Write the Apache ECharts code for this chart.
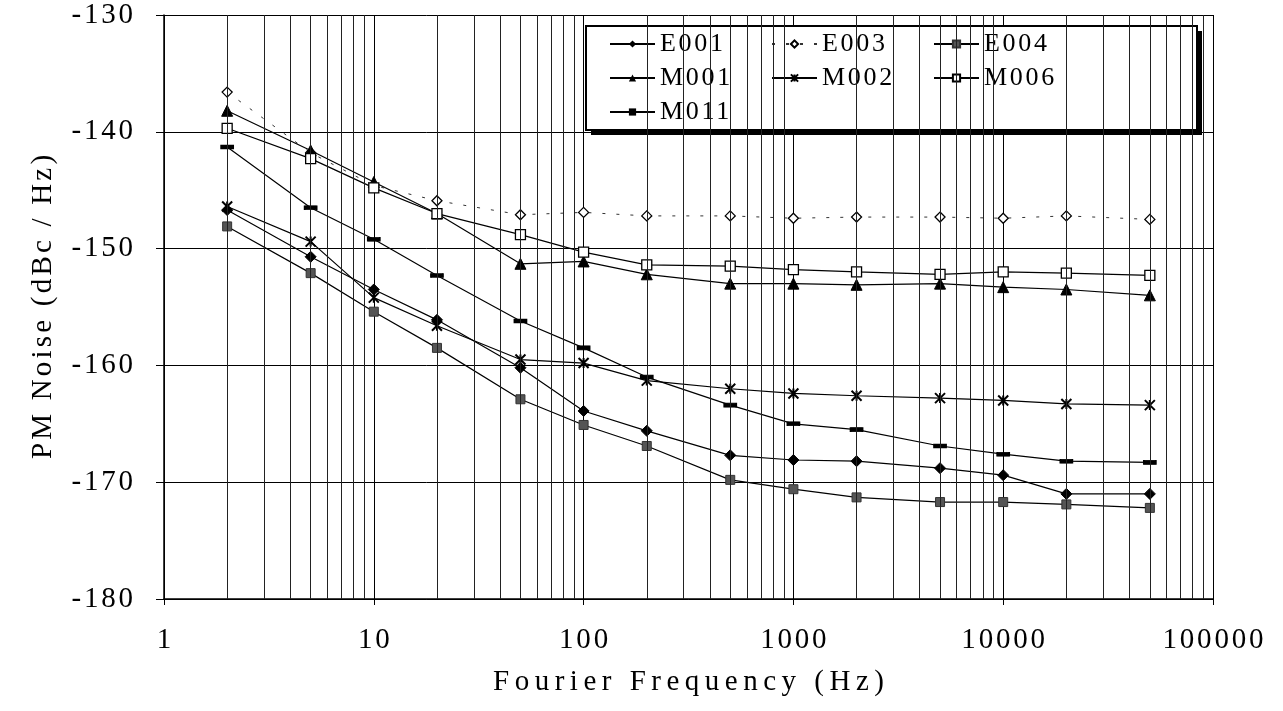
<!DOCTYPE html>
<html>
<head>
<meta charset="utf-8">
<script src="https://cdn.jsdelivr.net/npm/echarts@6/dist/echarts.min.js"></script>
<style>
  html, body { margin: 0; padding: 0; background: #fff; }
  #chart { width: 1283px; height: 711px; }
</style>
</head>
<body>
<div id="chart"></div>
<script>
const freq = [2, 5, 10, 20, 50, 100, 200, 500, 1000, 2000, 5000, 10000, 20000, 50000];
const E001 = [-146.7, -150.7, -153.5, -156.1, -160.2, -163.9, -165.6, -167.7, -168.1, -168.2, -168.8, -169.4, -171.0, -171.0];
const E003 = [-136.6, -141.8, -144.6, -145.9, -147.1, -146.9, -147.2, -147.2, -147.4, -147.3, -147.3, -147.4, -147.2, -147.5];
const E004 = [-148.1, -152.1, -155.4, -158.5, -162.9, -165.1, -166.9, -169.8, -170.6, -171.3, -171.7, -171.7, -171.9, -172.2];
const M001 = [-138.2, -141.6, -144.3, -147.0, -151.3, -151.1, -152.2, -153.0, -153.0, -153.1, -153.0, -153.3, -153.5, -154.0];
const M002 = [-146.4, -149.4, -154.2, -156.6, -159.5, -159.8, -161.3, -162.0, -162.4, -162.6, -162.8, -163.0, -163.3, -163.4];
const M006 = [-139.7, -142.3, -144.8, -147.0, -148.8, -150.3, -151.4, -151.5, -151.8, -152.0, -152.2, -152.0, -152.1, -152.3];
const M011 = [-141.3, -146.5, -149.2, -152.3, -156.2, -158.5, -161.0, -163.4, -165.0, -165.5, -166.9, -167.6, -168.2, -168.3];
const seriesNames = ['E001', 'E003', 'E004', 'M001', 'M002', 'M006', 'M011'];
const xTicks = [1, 10, 100, 1000, 10000, 100000];
const yTicks = [-180, -170, -160, -150, -140, -130];
const xTitle = 'Fourier Frequency (Hz)';
const yTitle = 'PM Noise (dBc / Hz)';

// minor log grid values (2..9 in every decade)
const minorX = [];
for (let d = 1; d < 100000; d *= 10) {
  for (let k = 2; k <= 9; k++) minorX.push(k * d);
}

// letter spacing (spaced-out serif lettering of the original), applied at draw time
function spacingFor(s) {
  if (s === xTitle) return 5.5;
  if (s === yTitle) return 3.2;
  if (seriesNames.indexOf(s) >= 0) return 2.7;
  if (/^-?\d+$/.test(s)) return 2.8;
  return 0;
}
(function () {
  const P = CanvasRenderingContext2D.prototype;
  const origFill = P.fillText;
  P.fillText = function (text, x, y, maxW) {
    const ls = spacingFor(String(text));
    if (ls && 'letterSpacing' in this) {
      const prev = this.letterSpacing;
      this.letterSpacing = ls + 'px';
      const a = this.textAlign;
      let dx = 0;
      if (a === 'center') dx = ls / 2;
      else if (a === 'right' || a === 'end') dx = ls;
      const r = maxW === undefined ? origFill.call(this, text, x + dx, y) : origFill.call(this, text, x + dx, y, maxW);
      this.letterSpacing = prev;
      return r;
    }
    return maxW === undefined ? origFill.call(this, text, x, y) : origFill.call(this, text, x, y, maxW);
  };
})();

const pair = (ys) => freq.map((f, i) => [f, ys[i]]);
const FONT = 'Liberation Serif';
const starPath = 'path://M0,0L10,10M10,0L0,10M5,0L5,10';

const base = {
  type: 'line',
  lineStyle: { color: '#000', width: 1.2 },
  itemStyle: { color: '#000', borderColor: '#000' },
  emphasis: { disabled: true },
  animation: false,
  z: 3
};

const option = {
  backgroundColor: '#fff',
  animation: false,
  textStyle: { fontFamily: FONT },
  grid: { left: 164, right: 70, top: 15, bottom: 112, containLabel: false },
  // solid drop shadow behind the legend box
  graphic: [{
    type: 'rect', left: 591, top: 31, z: 3, silent: true,
    shape: { width: 611, height: 104 },
    style: { fill: '#000' }
  }],
  legend: {
    data: seriesNames,
    left: 586,
    top: 26,
    orient: 'horizontal',
    width: 490,
    itemGap: 0,
    itemWidth: 45,
    itemHeight: 9,
    padding: [1, 102, 1, 23],
    backgroundColor: '#fff',
    borderColor: '#000',
    borderWidth: 2,
    borderRadius: 0,
    z: 5,
    textStyle: { fontFamily: FONT, fontSize: 26, color: '#000', width: 111, lineHeight: 34 },
    selectedMode: false
  },
  xAxis: {
    type: 'log',
    logBase: 10,
    min: 1,
    max: 100000,
    name: xTitle,
    nameLocation: 'middle',
    nameGap: 69,
    nameTextStyle: { fontFamily: FONT, fontSize: 29, color: '#000' },
    axisLine: { show: true, lineStyle: { color: '#000', width: 1.5 } },
    axisTick: { show: true, inside: false, length: 6, lineStyle: { color: '#000' } },
    axisLabel: {
      fontFamily: FONT, fontSize: 29, color: '#000', margin: 27,
      formatter: (v) => String(Math.round(v))
    },
    splitLine: { show: true, lineStyle: { color: '#000', width: 1 } },
    minorTick: { show: false },
    minorSplitLine: { show: false }
  },
  yAxis: {
    type: 'value',
    min: -180,
    max: -130,
    interval: 10,
    name: yTitle,
    nameLocation: 'middle',
    nameRotate: 90,
    nameGap: 106,
    nameTextStyle: { fontFamily: FONT, fontSize: 29, color: '#000' },
    axisLine: { show: true, lineStyle: { color: '#000', width: 1.5 } },
    axisTick: { show: true, inside: false, length: 8, lineStyle: { color: '#000' } },
    axisLabel: { fontFamily: FONT, fontSize: 29, color: '#000', margin: 31 },
    splitLine: { show: true, lineStyle: { color: '#000', width: 1 } }
  },
  series: [
    {
      name: '_grid', type: 'line', data: [], silent: true, z: 1,
      markLine: {
        silent: true, symbol: ['none', 'none'], label: { show: false },
        animation: false,
        lineStyle: { color: '#222', width: 1, type: 'solid' },
        emphasis: { disabled: true },
        data: minorX.map(v => ({ xAxis: v }))
      }
    },
    Object.assign({}, base, {
      name: 'E001', data: pair(E001), symbol: 'diamond', symbolSize: 11
    }),
    Object.assign({}, base, {
      name: 'E003', data: pair(E003), symbol: 'diamond', symbolSize: 10,
      lineStyle: { color: '#333', width: 1, type: [3, 11] },
      itemStyle: { color: '#fff', borderColor: '#000', borderWidth: 1.3 }
    }),
    Object.assign({}, base, {
      name: 'E004', data: pair(E004), symbol: 'rect', symbolSize: 9,
      itemStyle: { color: '#555', borderColor: '#333', borderWidth: 1 }
    }),
    Object.assign({}, base, {
      name: 'M001', data: pair(M001), symbol: 'triangle', symbolSize: 11
    }),
    Object.assign({}, base, {
      name: 'M002', data: pair(M002), symbol: starPath, symbolSize: 10,
      itemStyle: { color: 'none', borderColor: '#000', borderWidth: 2 }
    }),
    Object.assign({}, base, {
      name: 'M006', data: pair(M006), symbol: 'rect', symbolSize: 10,
      itemStyle: { color: '#fff', borderColor: '#000', borderWidth: 1.3 }
    }),
    Object.assign({}, base, {
      name: 'M011', data: pair(M011), symbol: 'rect', symbolSize: [12, 4]
    })
  ]
};

const chart = echarts.init(document.getElementById('chart'), null, { renderer: 'canvas' });
chart.setOption(option);
</script>
</body>
</html>
